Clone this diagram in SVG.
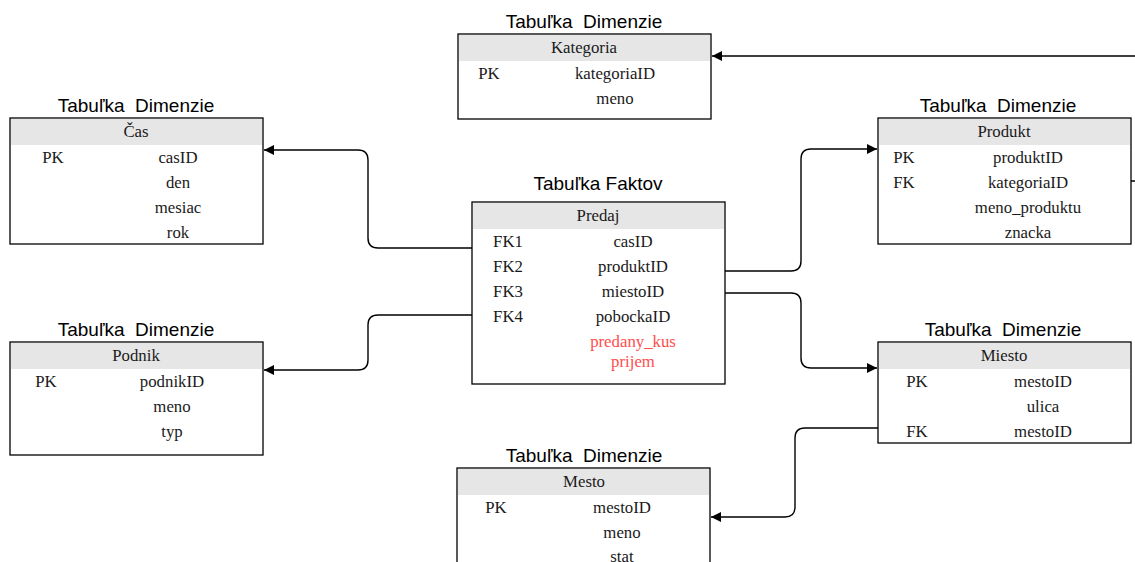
<svg xmlns="http://www.w3.org/2000/svg" width="1135" height="562" viewBox="0 0 1135 562">
  <style>
    .box { fill: #ffffff; stroke: #000000; stroke-width: 1.3; }
    .head { fill: #e6e6e6; }
    .title { font-family: "Liberation Sans", Arial, sans-serif; font-size: 19px; fill: #000000; text-anchor: middle; white-space: pre; }
    .cell { font-family: "Liberation Serif", "Times New Roman", serif; font-size: 16.8px; fill: #1a1a1a; text-anchor: middle; }
    .red { fill: #ff4d4d; }
    .conn { fill: none; stroke: #000000; stroke-width: 1.4; }
  </style>
  <defs>
    <marker id="arrow" viewBox="0 0 10 10" refX="10" refY="5" markerWidth="10" markerHeight="10" markerUnits="userSpaceOnUse" orient="auto">
      <path d="M0,0 L10,5 L0,10 z" fill="#000000"/>
    </marker>
  </defs>

  <rect width="1135" height="562" fill="#ffffff"/>

  <!-- connectors -->
  <g id="connectors">
    <path class="conn" marker-end="url(#arrow)" d="M472,248 L378,248 Q368,248 368,238 L368,160 Q368,150 358,150 L264,150"/>
    <path class="conn" marker-end="url(#arrow)" d="M472,315 L378,315 Q368,315 368,325 L368,360 Q368,370 358,370 L264,370"/>
    <path class="conn" marker-end="url(#arrow)" d="M725,271 L791,271 Q801,271 801,261 L801,159 Q801,149 811,149 L877,149"/>
    <path class="conn" marker-end="url(#arrow)" d="M725,293 L791,293 Q801,293 801,303 L801,358 Q801,368 811,368 L877,368"/>
    <path class="conn" marker-end="url(#arrow)" d="M878,428 L805,428 Q795,428 795,438 L795,507 Q795,517 785,517 L711,517"/>
    <path class="conn" marker-end="url(#arrow)" d="M1131,181 L1150,181 L1150,56 L712,56"/>
  </g>

  <!-- Kategoria -->
  <g id="kategoria">
    <text class="title" x="584" y="28" xml:space="preserve">Tabuľka  Dimenzie</text>
    <rect class="box" x="458" y="34" width="253" height="85"/>
    <rect class="head" x="459" y="35" width="251" height="26"/>
    <text class="cell" x="584" y="53">Kategoria</text>
    <text class="cell" x="489" y="79">PK</text>
    <text class="cell" x="615" y="79">kategoriaID</text>
    <text class="cell" x="615" y="104">meno</text>
  </g>

  <!-- Čas -->
  <g id="cas">
    <text class="title" x="136" y="112" xml:space="preserve">Tabuľka  Dimenzie</text>
    <rect class="box" x="10" y="118" width="253" height="126"/>
    <rect class="head" x="11" y="119" width="251" height="26"/>
    <text class="cell" x="136" y="137">Čas</text>
    <text class="cell" x="53" y="163">PK</text>
    <text class="cell" x="178" y="163">casID</text>
    <text class="cell" x="178" y="188">den</text>
    <text class="cell" x="178" y="213">mesiac</text>
    <text class="cell" x="178" y="238">rok</text>
  </g>

  <!-- Predaj -->
  <g id="predaj">
    <text class="title" x="598" y="190">Tabuľka Faktov</text>
    <rect class="box" x="472" y="202" width="253" height="182"/>
    <rect class="head" x="473" y="203" width="251" height="26"/>
    <text class="cell" x="598" y="221">Predaj</text>
    <text class="cell" x="508" y="247">FK1</text>
    <text class="cell" x="633" y="247">casID</text>
    <text class="cell" x="508" y="272">FK2</text>
    <text class="cell" x="633" y="272">produktID</text>
    <text class="cell" x="508" y="297">FK3</text>
    <text class="cell" x="633" y="297">miestoID</text>
    <text class="cell" x="508" y="322">FK4</text>
    <text class="cell" x="633" y="322">pobockaID</text>
    <text class="cell red" x="633" y="347">predany_kus</text>
    <text class="cell red" x="633" y="367">prijem</text>
  </g>

  <!-- Produkt -->
  <g id="produkt">
    <text class="title" x="998" y="112" xml:space="preserve">Tabuľka  Dimenzie</text>
    <rect class="box" x="878" y="118" width="253" height="126"/>
    <rect class="head" x="879" y="119" width="251" height="26"/>
    <text class="cell" x="1004" y="137">Produkt</text>
    <text class="cell" x="904" y="163">PK</text>
    <text class="cell" x="1028" y="163">produktID</text>
    <text class="cell" x="904" y="188">FK</text>
    <text class="cell" x="1028" y="188">kategoriaID</text>
    <text class="cell" x="1028" y="213">meno_produktu</text>
    <text class="cell" x="1028" y="238">znacka</text>
  </g>

  <!-- Podnik -->
  <g id="podnik">
    <text class="title" x="136" y="336" xml:space="preserve">Tabuľka  Dimenzie</text>
    <rect class="box" x="10" y="342" width="253" height="113"/>
    <rect class="head" x="11" y="343" width="251" height="26"/>
    <text class="cell" x="136" y="361">Podnik</text>
    <text class="cell" x="46" y="387">PK</text>
    <text class="cell" x="172" y="387">podnikID</text>
    <text class="cell" x="172" y="412">meno</text>
    <text class="cell" x="172" y="437">typ</text>
  </g>

  <!-- Miesto -->
  <g id="miesto">
    <text class="title" x="1003" y="336" xml:space="preserve">Tabuľka  Dimenzie</text>
    <rect class="box" x="878" y="342" width="253" height="101"/>
    <rect class="head" x="879" y="343" width="251" height="26"/>
    <text class="cell" x="1004" y="361">Miesto</text>
    <text class="cell" x="917" y="387">PK</text>
    <text class="cell" x="1043" y="387">mestoID</text>
    <text class="cell" x="1043" y="412">ulica</text>
    <text class="cell" x="917" y="437">FK</text>
    <text class="cell" x="1043" y="437">mestoID</text>
  </g>

  <!-- Mesto -->
  <g id="mesto">
    <text class="title" x="584" y="462" xml:space="preserve">Tabuľka  Dimenzie</text>
    <rect class="box" x="457" y="468" width="253" height="120"/>
    <rect class="head" x="458" y="469" width="251" height="26"/>
    <text class="cell" x="584" y="487">Mesto</text>
    <text class="cell" x="496" y="513">PK</text>
    <text class="cell" x="622" y="513">mestoID</text>
    <text class="cell" x="622" y="538">meno</text>
    <text class="cell" x="622" y="562">stat</text>
  </g>
</svg>
